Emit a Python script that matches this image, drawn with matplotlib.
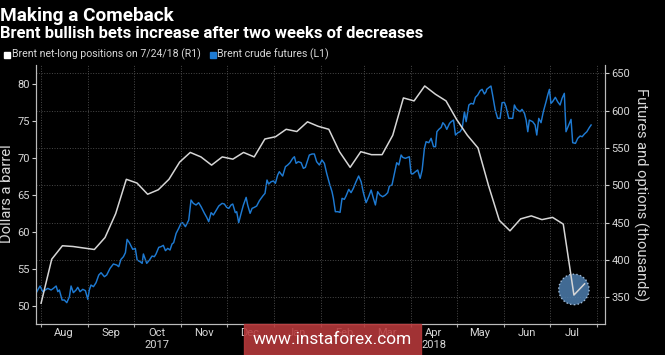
import matplotlib.pyplot as plt
import matplotlib.dates as mdates
from matplotlib.patches import Rectangle, Ellipse
import pandas as pd

# Brent net-long positions (thousands), weekly from Tue 2017-08-01
net_long = [342, 401, 419, 418, 416, 414, 430, 462, 508, 503, 488, 494, 508,
            531, 544, 538, 527, 538, 535, 544, 538, 562, 565, 575, 572, 585,
            579, 575, 545, 524, 545, 541, 541, 567, 617, 613, 633, 622, 613,
            588, 567, 550, 499, 453, 439, 455, 459, 454, 457, 448, 353, 368]

# Brent crude futures, $/bbl -- days counted from 2017-08-01
brent_day = [-3.3, -0.7, 1.1, 4.4, 6.6, 8.1, 9.9, 11.0, 12.0, 13.8, 15.3, 16.9,
             18.6, 19.7, 21.2, 23.0, 24.1, 25.6, 27.4, 29.1, 30.7, 31.7, 32.8,
             34.4, 36.1, 37.9, 39.4, 41.6, 43.1, 45.3, 47.5, 49.7, 51.0, 52.5,
             54.1, 55.4, 56.5, 58.0, 60.2, 61.9, 63.1, 65.0, 66.4, 67.2, 69.4,
             71.2, 72.9, 74.4, 75.5, 77.3, 78.8, 80.3, 81.7, 83.2, 84.7, 86.0,
             87.1, 88.7, 90.4, 91.9, 93.0, 94.8, 97.0, 98.5, 100.0, 101.8,
             103.5, 105.1, 107.3, 108.8, 110.1, 111.7, 113.2, 114.9, 116.7,
             118.9, 120.4, 121.9, 123.3, 124.8, 125.9, 127.6, 128.5, 129.8,
             131.4, 132.9, 134.7, 135.7, 137.3, 138.6, 140.1, 141.6, 143.4,
             145.6, 147.1, 148.4, 149.5, 151.1, 152.6, 153.9, 155.4, 156.5,
             157.6, 158.7, 160.5, 162.0, 163.5, 165.3, 166.4, 167.5, 169.0,
             170.8, 172.3, 173.6, 175.1, 176.2, 178.0, 179.5, 181.0, 182.8,
             184.5, 186.1, 187.6, 189.4, 191.1, 192.0, 193.3, 194.9, 196.4,
             197.7, 199.2, 200.3, 202.1, 203.6, 205.1, 206.9, 208.6, 210.2,
             211.7, 213.5, 215.2, 216.8, 218.3, 219.6, 221.1, 222.6, 224.4,
             226.2, 227.7, 228.8, 230.5, 232.1, 233.6, 235.0, 236.5, 237.6,
             239.3, 240.8, 241.9, 243.0, 244.1, 245.9, 247.4, 249.0, 250.3,
             251.8, 252.9, 254.7, 256.2, 257.8, 259.1, 260.0, 261.3, 262.8,
             263.9, 265.2, 266.5, 268.3, 269.4, 270.9, 272.2, 273.8, 275.2,
             276.6, 278.1, 279.2, 281.0, 282.4, 284.0, 285.3, 286.8, 288.4,
             289.7, 291.2, 292.3, 292.7, 294.3, 295.5, 296.6, 298.3, 299.9,
             301.5, 302.8, 304.3, 305.4, 307.2, 308.7, 309.8, 310.9, 312.0,
             313.1, 314.6, 315.9, 317.5, 318.6, 319.7, 320.7, 322.9, 324.5,
             325.6, 326.9, 328.4, 329.9, 331.7, 332.8, 333.9, 334.9, 336.0,
             337.8, 339.3, 340.9, 342.2, 343.7, 344.8, 346.6, 348.1, 349.2,
             351.0, 352.5, 354.1, 355.4, 356.9, 358.5, 360.2, 361.3]
brent_price = [51.70, 52.67, 51.90, 52.35, 52.13, 52.35, 52.67, 51.90, 52.13,
               50.77, 50.77, 50.41, 51.22, 52.67, 51.77, 52.13, 52.49, 51.90,
               52.22, 52.04, 50.86, 52.13, 52.80, 52.58, 53.12, 54.16, 54.47,
               53.93, 54.16, 55.06, 55.65, 55.51, 55.29, 56.28, 56.64, 57.19,
               58.99, 58.54, 57.64, 57.77, 56.19, 55.97, 55.74, 57.01, 55.74,
               56.19, 56.73, 56.64, 57.01, 57.91, 58.00, 58.18, 57.46, 57.77,
               57.55, 58.36, 58.54, 59.80, 60.48, 61.16, 61.25, 60.71, 61.60,
               64.32, 63.87, 63.65, 63.96, 63.42, 62.52, 61.97, 61.39, 62.61,
               62.29, 62.88, 63.51, 63.87, 63.78, 63.33, 63.19, 63.65, 63.78,
               62.61, 62.74, 61.25, 62.52, 63.65, 64.68, 63.65, 62.52, 63.19,
               63.33, 63.51, 64.23, 64.86, 65.23, 67.03, 66.49, 66.80, 66.90,
               66.58, 67.71, 68.16, 67.85, 67.57, 68.84, 69.07, 69.38, 69.97,
               70.19, 69.29, 69.52, 69.38, 68.61, 68.75, 69.74, 70.42, 70.56,
               70.56, 69.52, 69.07, 69.74, 69.29, 67.94, 66.58, 65.45, 64.55,
               62.74, 62.74, 62.65, 64.55, 64.41, 64.86, 65.77, 65.32, 65.90,
               66.81, 67.58, 66.81, 65.32, 63.96, 64.77, 65.68, 64.55, 63.65,
               65.45, 65.00, 64.77, 65.00, 65.32, 66.22, 66.36, 67.94, 69.38,
               69.07, 70.42, 70.10, 69.97, 70.10, 70.19, 67.94, 67.85, 68.16,
               68.39, 67.26, 68.39, 71.32, 72.23, 72.09, 72.68, 71.55, 71.55,
               73.58, 73.90, 74.17, 74.80, 74.49, 73.90, 74.71, 74.94, 75.16,
               73.13, 73.45, 73.58, 74.03, 76.29, 74.94, 77.20, 77.42, 77.33,
               78.24, 78.55, 79.14, 79.32, 78.69, 79.00, 79.32, 79.59, 79.77,
               78.55, 76.52, 75.39, 75.39, 77.51, 77.56, 76.97, 75.39, 75.39,
               75.39, 77.20, 76.74, 76.52, 76.29, 76.61, 76.07, 75.16, 73.58,
               75.16, 74.94, 74.49, 73.13, 75.39, 74.80, 76.29, 77.65, 78.55,
               79.32, 77.42, 77.65, 78.24, 77.65, 77.20, 78.10, 78.78, 73.58,
               74.49, 75.25, 72.09, 72.00, 72.68, 73.00, 72.90, 73.27, 73.58,
               74.17, 74.49]

month_labels = ['Aug', 'Sep', 'Oct\n2017', 'Nov', 'Dec', 'Jan', 'Feb', 'Mar',
                'Apr\n2018', 'May', 'Jun', 'Jul']

start = pd.Timestamp('2017-08-01')
weeks = pd.date_range(start, periods=len(net_long), freq='7D')
brent_dates = start + pd.to_timedelta(brent_day, unit='D')

plt.rcParams['font.family'] = 'Roboto'
fg = '#d8d8d8'
grid_c = '#4a4a4a'
blue = '#1e7ad2'

fig = plt.figure(figsize=(6.65, 3.55), dpi=100, facecolor='black')
ax = fig.add_axes([36/665, 1-324.3/355, 569/665, 259.3/355])
ax.set_facecolor('black')
ax2 = ax.twinx()

ax.plot(brent_dates, brent_price, color=blue, lw=1.05, zorder=3)
ax2.plot(weeks, net_long, color='#d6d6d6', lw=1.1, zorder=4)

# highlight circle on the latest dip
ax2.add_patch(Ellipse((weeks[-2], (net_long[-2] + net_long[-1]) / 2),
                      width=20, height=41, facecolor='#4d7eae', alpha=0.85,
                      edgecolor='#b7d2ee', ls=':', lw=1.0, zorder=3))

ax.set_xlim(pd.Timestamp('2017-07-28 16:00'), pd.Timestamp('2018-08-06 10:00'))
ax.set_ylim(47.48, 82.62)
ax2.set_ylim(313.8, 661.1)

ax.set_yticks([50, 55, 60, 65, 70, 75, 80])
ax2.set_yticks([350, 400, 450, 500, 550, 600, 650])

month_starts = pd.date_range('2017-08-01', '2018-08-01', freq='MS')
mid_months = pd.date_range('2017-08-01', '2018-07-01', freq='MS') + pd.Timedelta(days=15)
ax.set_xticks(month_starts)
ax.set_xticklabels([''] * len(month_starts))
ax.set_xticks(mid_months, minor=True)
ax.set_xticklabels(month_labels, minor=True)

ax.tick_params(axis='x', which='major', length=2, color='#aaaaaa', direction='out')
ax.tick_params(axis='x', which='minor', length=0, pad=3, labelsize=8, labelcolor=fg)
ax.tick_params(axis='y', length=3, color='#cccccc', pad=1.5, labelsize=8, labelcolor=fg)
ax2.tick_params(axis='y', length=3, color='#cccccc', pad=1.5, labelsize=8, labelcolor=fg)

ax.grid(axis='x', which='major', color=grid_c, ls=':', lw=0.7)
ax2.grid(axis='y', color=grid_c, ls=':', lw=0.7)
ax.set_axisbelow(True)

for a in (ax, ax2):
    a.spines['top'].set_visible(False)
    for s in ('left', 'right', 'bottom'):
        a.spines[s].set_color('#bbbbbb')
        a.spines[s].set_linewidth(0.8)

# titles and legend
fig.text(0.0, 1-20.7/355, 'Making a Comeback', color='white', fontsize=13.7,
         fontweight='bold', va='baseline')
fig.text(0.0, 1-37.7/355, 'Brent bullish bets increase after two weeks of decreases',
         color='white', fontsize=12, fontweight='bold', va='baseline')
fig.patches.append(Rectangle((4/665, 1-57.5/355), 6/665, 6/355,
                             transform=fig.transFigure, color='white'))
fig.text(12/665, 1-57.5/355, 'Brent net-long positions on 7/24/18 (R1)',
         color=fg, fontsize=7.6, va='baseline')
fig.patches.append(Rectangle((210/665, 1-57.5/355), 6/665, 6/355,
                             transform=fig.transFigure, color=blue))
fig.text(217/665, 1-57.5/355, 'Brent crude futures (L1)',
         color=fg, fontsize=7.6, va='baseline')

fig.text(7.5/665, 1-194/355, 'Dollars a barrel', rotation=90, color=fg,
         fontsize=10.6, ha='center', va='center')
fig.text(641/665, 1-195/355, 'Futures and options (thousands)', rotation=270,
         color=fg, fontsize=10.6, ha='center', va='center')

# watermark
fig.patches.append(Rectangle((244/665, 0), 177/665, 31/355,
                             transform=fig.transFigure, color='#b83a3c',
                             alpha=0.88, zorder=5))
fig.text(332/665, 15/355, 'www.instaforex.com', color='white', fontsize=12.4,
         ha='center', va='center', zorder=6)

fig.savefig('out.png', dpi=100, facecolor='black')
